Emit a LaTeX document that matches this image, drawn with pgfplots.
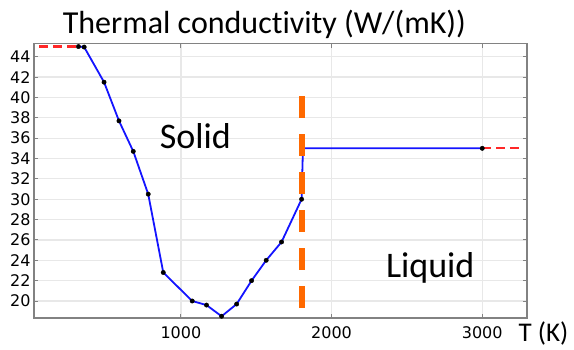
\documentclass[border=0pt]{standalone}
\usepackage{pgfplots}
\pgfplotsset{compat=1.18}
\usepackage{fontspec}
\setmainfont{Carlito}[Ligatures={NoCommon}]
\newfontfamily\dejavu{DejaVu Sans}
\definecolor{myblue}{RGB}{20,20,255}
\definecolor{myred}{RGB}{255,40,40}
\definecolor{myorange}{RGB}{255,105,0}
\definecolor{frame}{RGB}{130,130,130}
\definecolor{gridc}{RGB}{232,232,232}
\begin{document}
\begin{tikzpicture}
\begin{axis}[
  scale only axis,
  width=493pt, height=274.5pt,
  xmin=25, xmax=3297, ymin=18.33, ymax=45.30,
  xtick={1000,2000,3000},
  ytick={20,22,...,44},
  grid=major,
  major grid style={draw=gridc, line width=1.2pt},
  axis line style={draw=frame, line width=1.4pt},
  tick style={draw=frame, line width=1pt},
  major tick length=4pt,
  tick align=inside,
  /pgf/number format/assume math mode=true,
  /pgf/number format/1000 sep={},
  tick label style={font=\dejavu\fontsize{16}{16}\selectfont},
  xticklabel style={yshift=-5pt},
  clip=false,
]
\addplot[myred, line width=2.2pt, dash pattern=on 9pt off 5pt, forget plot]
  coordinates {(60,45.0) (320,45.0)};
\addplot[myred, line width=2.2pt, dash pattern=on 9pt off 5pt, forget plot]
  coordinates {(3000,35.0) (3275,35.0)};
\addplot[myblue, line width=1.8pt, no marks]
  coordinates {
  (320,45.0) (358,44.95) (490,41.5) (589,37.7) (684,34.7) (783,30.5)
  (883,22.8) (1075,20.0) (1170,19.6) (1270,18.5) (1370,19.7) (1469,22.0)
  (1566,24.0) (1668,25.8) (1801,30.0) (1810,35.0) (3000,35.0)};
\addplot[only marks, mark=*, mark size=2.2pt, black]
  coordinates {
  (320,45.0) (358,44.95) (490,41.5) (589,37.7) (684,34.7) (783,30.5)
  (883,22.8) (1075,20.0) (1170,19.6) (1270,18.5) (1370,19.7) (1469,22.0)
  (1566,24.0) (1668,25.8) (1801,30.0) (3000,35.0)};
\addplot[myorange, line width=6pt, dash pattern=on 21.7pt off 16.3pt]
  coordinates {(1801,40.1) (1801,19.3)};
\node[anchor=base, font=\fontsize{36}{36}\selectfont] at (axis cs:1096,35.03) {Solid};
\node[anchor=base, font=\fontsize{36}{36}\selectfont] at (axis cs:2655,22.33) {Liquid};
\node[anchor=base west, inner sep=0pt, font=\fontsize{27}{27}\selectfont] at (axis cs:3240,16.0) {T (K)};
\node[anchor=base, inner sep=0pt, font=\fontsize{32}{32}\selectfont] at (axis cs:1554,46.30) {Thermal conductivity (W/(mK))};
\end{axis}
\pgfresetboundingbox
\path (-34pt,-31pt) rectangle (540pt,318pt);
\end{tikzpicture}
\end{document}
